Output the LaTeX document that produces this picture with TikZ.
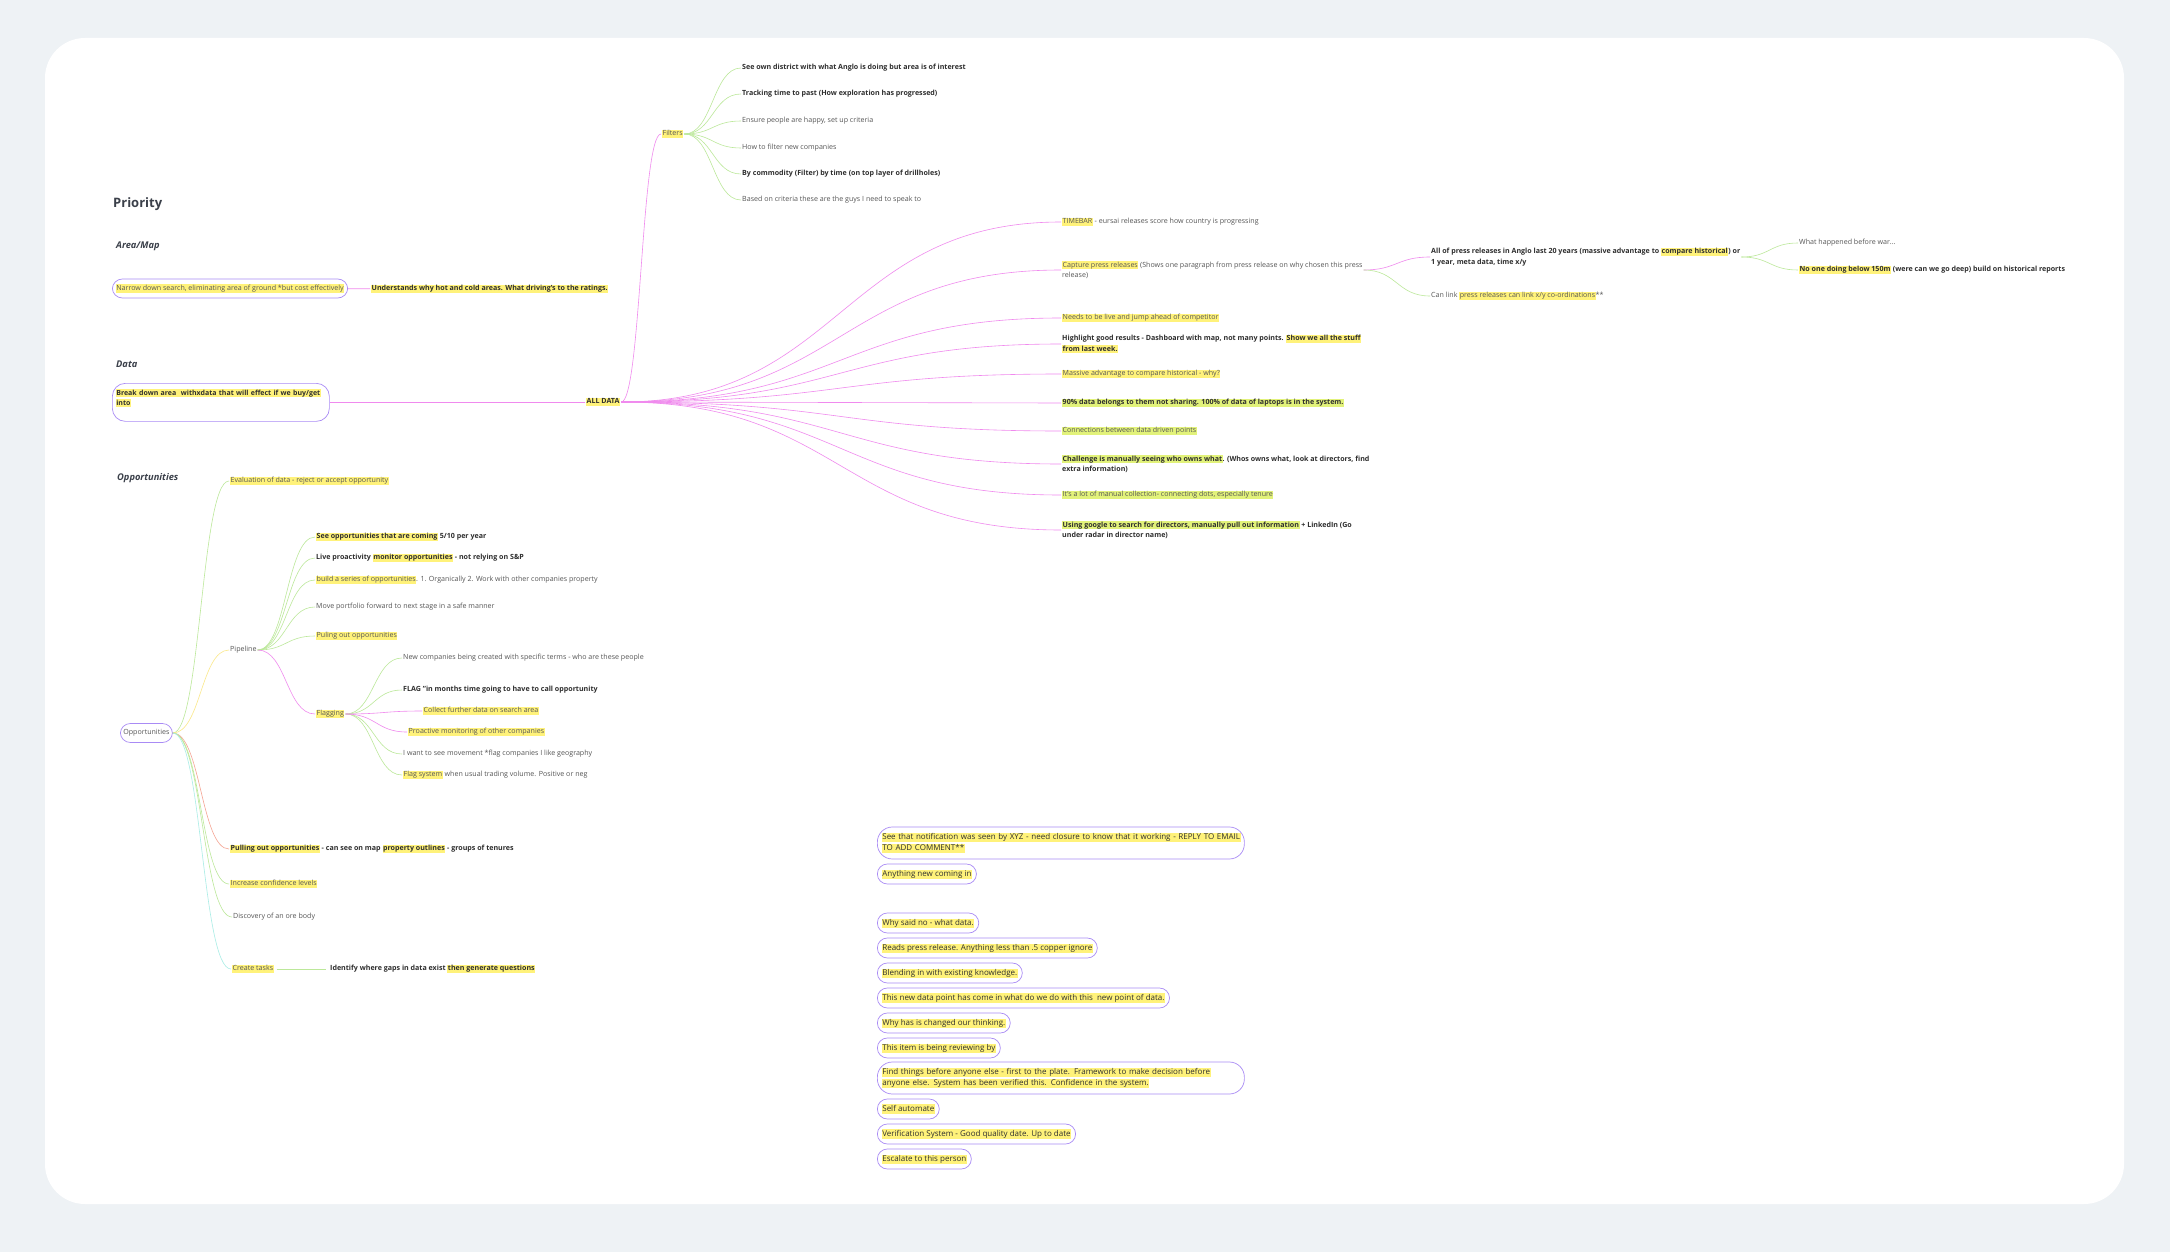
\documentclass[tikz,border=0pt]{standalone}
\usepackage{fontspec}
\setmainfont{Open Sans}
\usetikzlibrary{calc}

\definecolor{pagebg}{HTML}{EEF2F5}
\definecolor{hlyel}{HTML}{FFF27A}
\definecolor{hllime}{HTML}{E2F27A}
\definecolor{txtgrey}{HTML}{555555}
\definecolor{txtdark}{HTML}{2E2E2E}
\definecolor{headc}{HTML}{3B404A}
\definecolor{pillc}{HTML}{A98BF5}
\definecolor{linkpink}{HTML}{F08AEE}
\definecolor{linkgreen}{HTML}{BCE89A}
\definecolor{linkyel}{HTML}{FBE88A}
\definecolor{linkred}{HTML}{F5A493}
\definecolor{linkcyan}{HTML}{A9EDE6}

\newcommand{\hl}[1]{\begingroup\setlength{\fboxsep}{0.5pt}\colorbox{hlyel}{\vphantom{Ag}#1}\endgroup}
\newcommand{\hlg}[1]{\begingroup\setlength{\fboxsep}{0.5pt}\colorbox{hllime}{\vphantom{Ag}#1}\endgroup}
\newcommand{\mmlink}[3]{\draw[#1] let \p1=(#2.east), \p2=(#3.west) in
  (\p1) .. controls ({0.5*\x1+0.5*\x2},\y1) and ({0.5*\x1+0.5*\x2},\y2) .. (\p2);}

\begin{document}
\begin{tikzpicture}[
    x=1pt, y=-1pt,
    item/.style={anchor=west, inner sep=1pt, font=\fontsize{7.1}{10.5}\selectfont, text=txtgrey, align=left},
    bitem/.style={item, font=\fontsize{7.1}{10.5}\selectfont\bfseries, text=txtdark},
    head/.style={anchor=west, inner sep=0pt, font=\fontsize{9.3}{11}\selectfont\bfseries\itshape, text=headc},
    pill/.style={draw=pillc, line width=0.7pt, rounded corners=10pt, anchor=west, inner xsep=4.5pt,
        minimum height=20pt, font=\fontsize{8}{11.5}\selectfont, text=txtdark, align=left},
    pinklink/.style={draw=linkpink, line width=0.6pt},
    greenlink/.style={draw=linkgreen, line width=0.6pt},
    yellink/.style={draw=linkyel, line width=0.6pt},
    redlink/.style={draw=linkred, line width=0.6pt},
    cyanlink/.style={draw=linkcyan, line width=0.6pt}
]

% Background
\fill[pagebg] (0,0) rectangle (2170,1252);
\fill[white, rounded corners=40pt] (45,38) rectangle (2124,1204);

% Headings
\node[anchor=west, inner sep=0pt, font=\fontsize{13}{15}\selectfont\bfseries, text=headc] (priority) at (113,204) {Priority};
\node[head] (harea) at (116,246) {Area/Map};
\node[head] (hdata) at (116,364) {Data};
\node[head] (hopp) at (117,478) {Opportunities};

% Area/Map
\node[pill, minimum height=19pt, inner xsep=3.5pt, font=\fontsize{7.1}{10}\selectfont, text=txtgrey] (narrow) at (112,288.5)
    {\hl{Narrow down search, eliminating area of ground *but cost effectively}};
\node[bitem] (understands) at (370,289) {\hl{Understands why hot and cold areas. What driving's to the ratings.}};
\draw[pinklink] (narrow) -- (understands);

% Data
\node[pill, anchor=north west, rounded corners=13pt, inner xsep=3.5pt, minimum height=38pt,
    font=\fontsize{7}{10}\selectfont\bfseries, text width=210pt] (breakdown) at (112,383)
    {\hl{Break down area\ \ withxdata that will effect if we buy/get}\\\hl{into}\\\mbox{}};
\node[bitem] (alldata) at (585,402) {\hl{ALL DATA}};
\draw[pinklink] (breakdown.east |- alldata) -- (alldata);

% Filters
\node[item] (filters) at (661,134) {\hl{Filters}};
\node[bitem] (f1) at (741,68) {See own district with what Anglo is doing but area is of interest};
\node[bitem] (f2) at (741,94) {Tracking time to past (How exploration has progressed)};
\node[item] (f3) at (741,121) {Ensure people are happy, set up criteria};
\node[item] (f4) at (741,148) {How to filter new companies};
\node[bitem] (f5) at (741,174) {By commodity (Filter) by time (on top layer of drillholes)};
\node[item] (f6) at (741,200) {Based on criteria these are the guys I need to speak to};
\mmlink{pinklink}{alldata}{filters}
\foreach \k in {f1,f2,f3,f4,f5,f6}{\mmlink{greenlink}{filters}{\k}}

% All data branches
\node[item] (timebar) at (1061,222) {\hl{TIMEBAR} - eursai releases score how country is progressing};
\node[item] (capture) at (1061,270) {\hl{Capture press releases} (Shows one paragraph from press release on why chosen this press\\release)};
\node[item] (needs) at (1061,318) {\hl{Needs to be live and jump ahead of competitor}};
\node[bitem] (highlight) at (1061,344) {Highlight good results - Dashboard with map, not many points. \hl{Show we all the stuff}\\\hl{from last week.}};
\node[item] (massive) at (1061,374) {\hl{Massive advantage to compare historical - why?}};
\node[bitem] (ninety) at (1061,403) {\hlg{90\% data belongs to them not sharing. 100\% of data of laptops is in the system.}};
\node[item] (connections) at (1061,431) {\hlg{Connections between data driven points}};
\node[bitem] (challenge) at (1061,464) {\hlg{Challenge is manually seeing who owns what}. (Whos owns what, look at directors, find\\extra information)};
\node[item] (lotmanual) at (1061,495) {\hlg{It's a lot of manual collection- connecting dots, especially tenure}};
\node[bitem] (google) at (1061,530) {\hlg{Using google to search for directors, manually pull out information} + LinkedIn (Go\\under radar in director name)};
\foreach \k in {timebar,capture,needs,highlight,massive,ninety,connections,challenge,lotmanual,google}{\mmlink{pinklink}{alldata}{\k}}

% Press releases
\node[bitem] (allpress) at (1430,257) {All of press releases in Anglo last 20 years (massive advantage to \hl{compare historical}) or\\1 year, meta data, time x/y};
\node[item] (canlink) at (1430,296) {Can link \hl{press releases can link x/y co-ordinations}**};
\node[item] (warbefore) at (1798,243) {What happened before war...};
\node[bitem] (nobelow) at (1798,270) {\hl{No one doing below 150m} (were can we go deep) build on historical reports};
\mmlink{pinklink}{capture}{allpress}
\mmlink{greenlink}{capture}{canlink}
\mmlink{greenlink}{allpress}{warbefore}
\mmlink{greenlink}{allpress}{nobelow}

% Opportunities
\node[pill, minimum height=19pt, inner xsep=3pt, font=\fontsize{7.1}{10}\selectfont, text=txtgrey] (opp) at (120,733) {Opportunities};
\node[item] (evaluation) at (229,481) {\hl{Evaluation of data - reject or accept opportunity}};
\node[item] (pipeline) at (229,650) {Pipeline};
\node[bitem] (pullout) at (229,849) {\hl{Pulling out opportunities} - can see on map \hl{property outlines} - groups of tenures};
\node[item] (confidence) at (229,884) {\hl{Increase confidence levels}};
\node[item] (discovery) at (232,917) {Discovery of an ore body};
\node[item] (tasks) at (231,969) {\hl{Create tasks}};
\node[bitem] (identify) at (329,969) {Identify where gaps in data exist \hl{then generate questions}};
\mmlink{greenlink}{opp}{evaluation}
\mmlink{yellink}{opp}{pipeline}
\mmlink{redlink}{opp}{pullout}
\mmlink{greenlink}{opp}{confidence}
\mmlink{greenlink}{opp}{discovery}
\mmlink{cyanlink}{opp}{tasks}
\draw[greenlink] ([xshift=2pt]tasks.east) -- ([xshift=-3pt]identify.west);

% Pipeline
\node[bitem] (seeopp) at (315,537) {\hl{See opportunities that are coming} 5/10 per year};
\node[bitem] (liveproact) at (315,558) {Live proactivity \hl{monitor opportunities} - not relying on S\&P};
\node[item] (buildseries) at (315,580) {\hl{build a series of opportunities}. 1. Organically 2. Work with other companies property};
\node[item] (moveport) at (315,607) {Move portfolio forward to next stage in a safe manner};
\node[item] (puling) at (315,636) {\hl{Puling out opportunities}};
\node[item] (flagging) at (315,714) {\hl{Flagging}};
\foreach \k in {seeopp,liveproact,buildseries,moveport,puling}{\mmlink{greenlink}{pipeline}{\k}}
\mmlink{pinklink}{pipeline}{flagging}

% Flagging
\node[item] (fl1) at (402,658) {New companies being created with specific terms - who are these people};
\node[bitem] (fl2) at (402,690) {FLAG "in months time going to have to call opportunity};
\node[item] (fl3) at (422,711) {\hl{Collect further data on search area}};
\node[item] (fl4) at (407,732) {\hl{Proactive monitoring of other companies}};
\node[item] (fl5) at (402,754) {I want to see movement *flag companies I like geography};
\node[item] (fl6) at (402,775) {\hl{Flag system} when usual trading volume. Positive or neg};
\foreach \k in {fl1,fl2,fl5,fl6}{\mmlink{greenlink}{flagging}{\k}}
\mmlink{pinklink}{flagging}{fl3}
\mmlink{pinklink}{flagging}{fl4}

% Notes
\node[pill, minimum height=32pt, rounded corners=15pt, text width=358pt] (b1) at (877,843)
    {\hl{See that notification was seen by XYZ - need closure to know that it working - REPLY TO EMAIL}\\\hl{TO ADD COMMENT**}};
\node[pill] (b2) at (877,874) {\hl{Anything new coming in}};
\node[pill] (b3) at (877,923) {\hl{Why said no - what data.}};
\node[pill] (b4) at (877,948) {\hl{Reads press release. Anything less than .5 copper ignore}};
\node[pill] (b5) at (877,973) {\hl{Blending in with existing knowledge.}};
\node[pill] (b6) at (877,998) {\hl{This new data point has come in what do we do with this\ \ new point of data.}};
\node[pill] (b7) at (877,1023) {\hl{Why has is changed our thinking.}};
\node[pill] (b8) at (877,1048) {\hl{This item is being reviewing by}};
\node[pill, minimum height=32pt, rounded corners=15pt, text width=358pt] (b9) at (877,1078)
    {\hl{Find things before anyone else - first to the plate. Framework to make decision before}\\\hl{anyone else. System has been verified this. Confidence in the system.}};
\node[pill] (b10) at (877,1109) {\hl{Self automate}};
\node[pill] (b11) at (877,1134) {\hl{Verification System - Good quality date. Up to date}};
\node[pill] (b12) at (877,1159) {\hl{Escalate to this person}};

\end{tikzpicture}
\end{document}
